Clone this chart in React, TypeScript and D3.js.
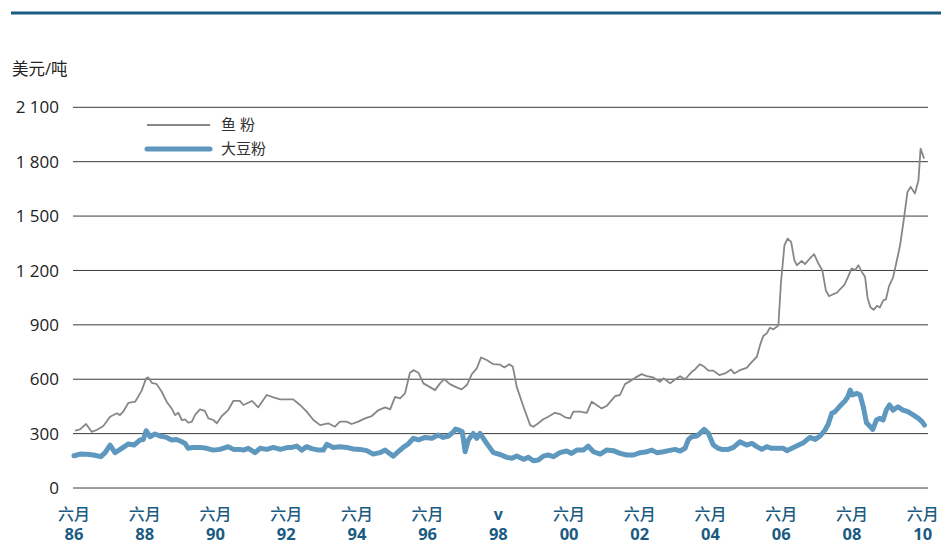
import React from "react";
import * as d3 from "d3";

const yTicks = [0, 300, 600, 900, 1200, 1500, 1800, 2100];
const xTickYears = [1986.5, 1988.5, 1990.5, 1992.5, 1994.5, 1996.5, 1998.5, 2000.5, 2002.5, 2004.5, 2006.5, 2008.5, 2010.5];
const xTickTop = ["六月", "六月", "六月", "六月", "六月", "六月", "v", "六月", "六月", "六月", "六月", "六月", "六月"];
const xTickBottom = ["86", "88", "90", "92", "94", "96", "98", "00", "02", "04", "06", "08", "10"];
const unitLabel = "美元/吨";
const seriesNames = ["鱼 粉", "大豆粉"];

const fishYears = [1986.53, 1986.67, 1986.84, 1987.0, 1987.14, 1987.33, 1987.52, 1987.71, 1987.8, 1987.89, 1988.04, 1988.23, 1988.41, 1988.54, 1988.6, 1988.7, 1988.84, 1988.98, 1989.12, 1989.26, 1989.36, 1989.45, 1989.55, 1989.64, 1989.73, 1989.83, 1989.92, 1990.06, 1990.2, 1990.3, 1990.44, 1990.54, 1990.68, 1990.86, 1991.01, 1991.19, 1991.29, 1991.53, 1991.71, 1991.95, 1992.14, 1992.33, 1992.56, 1992.7, 1992.89, 1993.08, 1993.27, 1993.46, 1993.69, 1993.88, 1994.02, 1994.21, 1994.35, 1994.54, 1994.73, 1994.92, 1995.11, 1995.3, 1995.44, 1995.58, 1995.72, 1995.86, 1996.0, 1996.1, 1996.24, 1996.38, 1996.52, 1996.71, 1996.85, 1996.97, 1997.13, 1997.32, 1997.46, 1997.61, 1997.75, 1997.89, 1998.01, 1998.17, 1998.36, 1998.55, 1998.67, 1998.81, 1998.91, 1999.02, 1999.21, 1999.4, 1999.49, 1999.63, 1999.77, 1999.91, 2000.1, 2000.24, 2000.39, 2000.53, 2000.62, 2000.81, 2001.0, 2001.14, 2001.28, 2001.42, 2001.56, 2001.8, 2001.94, 2002.08, 2002.27, 2002.41, 2002.55, 2002.7, 2002.88, 2003.07, 2003.17, 2003.36, 2003.5, 2003.64, 2003.78, 2003.97, 2004.06, 2004.2, 2004.3, 2004.44, 2004.58, 2004.75, 2004.91, 2005.08, 2005.17, 2005.33, 2005.52, 2005.67, 2005.81, 2005.9, 2005.99, 2006.09, 2006.18, 2006.28, 2006.42, 2006.49, 2006.59, 2006.68, 2006.78, 2006.87, 2006.94, 2007.08, 2007.17, 2007.31, 2007.43, 2007.55, 2007.66, 2007.76, 2007.85, 2007.97, 2008.07, 2008.16, 2008.28, 2008.38, 2008.49, 2008.59, 2008.68, 2008.78, 2008.87, 2008.94, 2009.02, 2009.11, 2009.21, 2009.29, 2009.39, 2009.46, 2009.55, 2009.66, 2009.75, 2009.86, 2009.97, 2010.07, 2010.16, 2010.28, 2010.38, 2010.44, 2010.54];
const fishValues = [316, 323, 353, 310, 320, 342, 393, 412, 402, 421, 470, 476, 536, 605, 610, 580, 573, 531, 476, 439, 402, 415, 375, 379, 360, 365, 402, 434, 426, 384, 375, 357, 397, 430, 481, 481, 458, 480, 445, 513, 500, 489, 489, 489, 458, 421, 375, 347, 357, 338, 366, 366, 353, 366, 384, 397, 430, 445, 434, 503, 494, 522, 636, 650, 636, 577, 562, 540, 577, 600, 573, 555, 544, 568, 628, 660, 720, 706, 683, 680, 665, 683, 669, 558, 448, 347, 338, 357, 379, 393, 415, 408, 390, 384, 421, 421, 415, 476, 458, 439, 452, 507, 513, 573, 595, 613, 628, 617, 610, 586, 605, 577, 600, 617, 600, 641, 654, 683, 672, 647, 647, 623, 632, 654, 632, 650, 663, 696, 724, 788, 838, 853, 884, 875, 898, 1128, 1339, 1376, 1358, 1257, 1229, 1253, 1235, 1266, 1290, 1238, 1202, 1091, 1058, 1069, 1077, 1095, 1119, 1161, 1211, 1202, 1229, 1192, 1165, 1050, 997, 983, 1005, 996, 1036, 1040, 1115, 1160, 1238, 1339, 1487, 1633, 1661, 1624, 1698, 1872, 1817];

const soyYears = [1986.5, 1986.67, 1986.86, 1987.05, 1987.26, 1987.38, 1987.52, 1987.66, 1987.85, 1988.04, 1988.2, 1988.37, 1988.46, 1988.54, 1988.65, 1988.79, 1988.93, 1989.12, 1989.26, 1989.4, 1989.55, 1989.64, 1989.73, 1989.87, 1990.06, 1990.25, 1990.44, 1990.63, 1990.86, 1991.01, 1991.19, 1991.29, 1991.43, 1991.62, 1991.76, 1991.95, 1992.14, 1992.33, 1992.56, 1992.66, 1992.8, 1992.94, 1993.08, 1993.22, 1993.41, 1993.55, 1993.65, 1993.83, 1994.02, 1994.21, 1994.4, 1994.59, 1994.78, 1994.96, 1995.15, 1995.3, 1995.39, 1995.53, 1995.67, 1995.81, 1995.95, 1996.1, 1996.24, 1996.43, 1996.62, 1996.8, 1996.94, 1997.09, 1997.23, 1997.29, 1997.42, 1997.48, 1997.56, 1997.65, 1997.79, 1997.89, 1997.98, 1998.17, 1998.36, 1998.55, 1998.74, 1998.88, 1999.02, 1999.21, 1999.35, 1999.49, 1999.63, 1999.77, 1999.91, 2000.06, 2000.24, 2000.43, 2000.57, 2000.72, 2000.9, 2001.04, 2001.19, 2001.38, 2001.56, 2001.75, 2001.94, 2002.13, 2002.32, 2002.51, 2002.7, 2002.84, 2002.98, 2003.17, 2003.31, 2003.5, 2003.64, 2003.78, 2003.87, 2003.97, 2004.11, 2004.2, 2004.32, 2004.44, 2004.58, 2004.72, 2004.82, 2005.0, 2005.15, 2005.33, 2005.52, 2005.67, 2005.81, 2005.95, 2006.09, 2006.23, 2006.42, 2006.56, 2006.66, 2006.8, 2006.99, 2007.13, 2007.31, 2007.46, 2007.6, 2007.74, 2007.83, 2007.93, 2008.02, 2008.16, 2008.3, 2008.38, 2008.45, 2008.51, 2008.64, 2008.73, 2008.82, 2008.91, 2009.0, 2009.09, 2009.19, 2009.28, 2009.38, 2009.47, 2009.56, 2009.66, 2009.8, 2009.94, 2010.08, 2010.24, 2010.38, 2010.48, 2010.55];
const soyValues = [178, 187, 186, 182, 173, 195, 237, 195, 219, 243, 237, 265, 268, 316, 283, 298, 287, 279, 265, 268, 255, 246, 219, 224, 224, 219, 209, 213, 228, 213, 213, 209, 219, 195, 219, 213, 224, 213, 224, 224, 231, 209, 228, 217, 209, 209, 241, 224, 228, 224, 215, 213, 206, 187, 195, 209, 195, 176, 200, 224, 243, 274, 265, 279, 274, 292, 279, 287, 310, 325, 316, 310, 200, 265, 301, 274, 301, 246, 195, 185, 169, 164, 176, 158, 169, 150, 154, 176, 182, 173, 195, 204, 191, 209, 209, 231, 200, 187, 209, 206, 191, 182, 182, 195, 200, 209, 195, 200, 206, 213, 204, 219, 265, 283, 287, 301, 323, 301, 237, 219, 213, 213, 224, 255, 237, 246, 228, 213, 228, 219, 219, 219, 206, 219, 237, 250, 279, 268, 287, 320, 353, 412, 421, 452, 480, 503, 540, 513, 522, 513, 448, 360, 342, 323, 375, 384, 375, 430, 458, 430, 448, 430, 421, 402, 384, 366, 347];

const W = 941;
const H = 542;
const FONT = "'Open Sans', 'Noto Sans CJK SC', 'Noto Sans', sans-serif";
const BLUE_DARK = "#1b5b82";
const FISH_COLOR = "#878787";
const SOY_COLOR = "#5e98bf";

export default function App() {
  const x = d3.scaleLinear().domain([1986.5, 2010.5]).range([74, 922.7]);
  const y = d3.scaleLinear().domain([0, 2100]).range([488, 107.3]);

  const fishData = fishYears.map((yr, i) => [yr, fishValues[i]] as [number, number]);
  const soyData = soyYears.map((yr, i) => [yr, soyValues[i]] as [number, number]);

  const line = d3
    .line<[number, number]>()
    .x((d) => x(d[0]))
    .y((d) => y(d[1]))
    .curve(d3.curveLinear);

  return (
    <svg
      width={W}
      height={H}
      style={{ position: "absolute", left: 0, top: 0, background: "#fff" }}
      fontFamily={FONT}
    >
      <line x1={11} x2={941} y1={13} y2={13} stroke={BLUE_DARK} strokeWidth={3} />
      <text x={12} y={75} fontSize={16.5} fill="#222">
        {unitLabel}
      </text>

      {yTicks.map((t) => (
        <g key={t}>
          <line x1={73} x2={928} y1={y(t)} y2={y(t)} stroke="#3c3c3c" strokeWidth={1} />
          <text x={59} y={y(t)} dy="0.36em" textAnchor="end" fontSize={17} fill="#222">
            {d3.format(",")(t).replace(",", " ")}
          </text>
        </g>
      ))}

      <path d={line(soyData) || ""} fill="none" stroke={SOY_COLOR} strokeWidth={5} strokeLinejoin="round" strokeLinecap="round" />
      <path d={line(fishData) || ""} fill="none" stroke={FISH_COLOR} strokeWidth={1.8} strokeLinejoin="round" />

      <line x1={147} x2={210} y1={125} y2={125} stroke={FISH_COLOR} strokeWidth={1.8} />
      <text x={221} y={125} dy="0.36em" fontSize={15} fill="#333">
        {seriesNames[0]}
      </text>
      <line x1={147} x2={210} y1={149} y2={149} stroke={SOY_COLOR} strokeWidth={5} strokeLinecap="round" />
      <text x={221} y={149} dy="0.36em" fontSize={15} fill="#333">
        {seriesNames[1]}
      </text>

      {xTickYears.map((yr, i) => (
        <g key={yr} fill={BLUE_DARK} textAnchor="middle">
          <text x={x(yr)} y={520} fontSize={16} fontWeight={xTickTop[i] === "v" ? 700 : 500}>
            {xTickTop[i]}
          </text>
          <text x={x(yr)} y={540} fontSize={16.5} fontWeight={700}>
            {xTickBottom[i]}
          </text>
        </g>
      ))}
    </svg>
  );
}
